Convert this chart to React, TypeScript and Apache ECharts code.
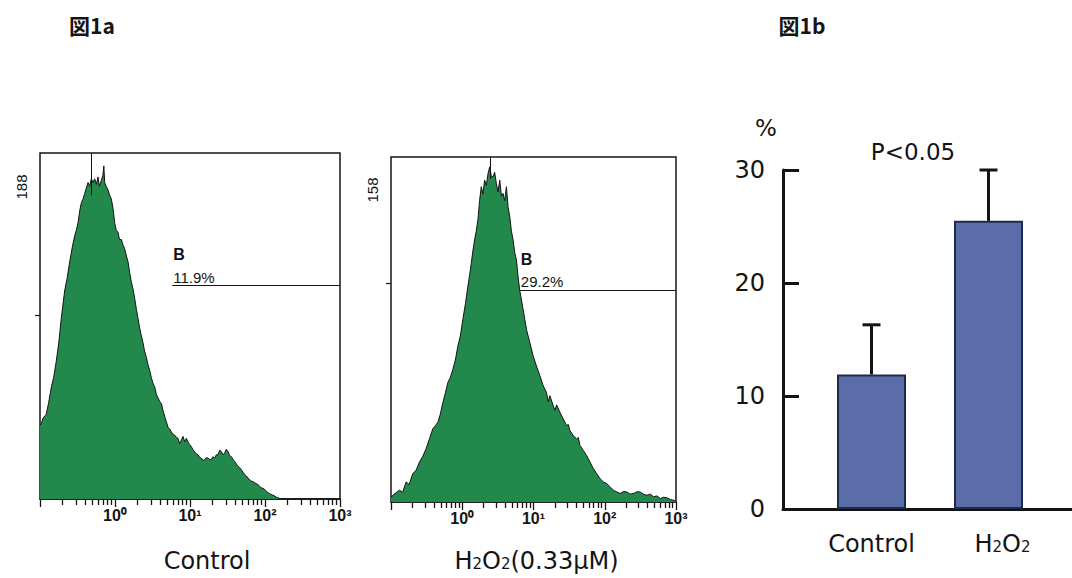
import React, { useEffect, useRef } from 'react';
import * as echarts from 'echarts';

// ---------- Figure 1a: flow cytometry histograms (intensity, cell count) ----------
const CONTROL_X = [
  0.1, 0.104, 0.11, 0.121, 0.13, 0.142, 0.152, 0.165, 0.178, 0.192, 0.2, 0.213, 0.23, 0.249, 0.27, 0.29,
  0.305, 0.321, 0.34, 0.356, 0.375, 0.394, 0.415, 0.437, 0.46, 0.483, 0.51, 0.536, 0.565, 0.593, 0.62,
  0.657, 0.69, 0.71, 0.728, 0.76, 0.807, 0.85, 0.893, 0.94, 0.99, 1.04, 1.096, 1.15, 1.214, 1.28, 1.345,
  1.42, 1.49, 1.57, 1.65, 1.74, 1.83, 1.93, 2.03, 2.13, 2.24, 2.36, 2.49, 2.62, 2.75, 2.9, 3.05, 3.2,
  3.38, 3.55, 3.74, 3.95, 4.15, 4.37, 4.59, 4.84, 5.09, 5.36, 5.64, 5.94, 6.25, 6.58, 6.92, 7.28, 7.66,
  8.07, 8.49, 8.94, 9.4, 9.9, 10.4, 10.9, 11.5, 12.1, 12.8, 13.5, 14.2, 14.9, 15.7, 16.5, 17.4, 18.3,
  19.2, 20.2, 21.3, 22.4, 23.6, 24.9, 26.2, 27.5, 29.0, 30.5, 32.1, 33.8, 35.6, 37.5, 39.4, 41.5, 43.7,
  46, 48.3, 51, 53.6, 56.4, 59.3, 62.4, 65.7, 69.2, 72.8, 76.6, 80.7, 85, 89.3, 94, 99, 104, 110, 115,
  121, 128, 135, 142, 149, 157, 165, 1000,
];
const CONTROL_COUNT = [
  40, 41, 44, 46, 52, 61, 66, 75, 85, 98, 104, 113, 120, 129, 137, 143,
  146, 150, 157, 161, 163, 166, 169, 172, 170, 174, 172, 174, 171, 175, 170,
  173, 176, 181, 172, 170, 168, 165, 163, 158, 150, 146, 145, 141, 141, 138, 136,
  132, 129, 123, 118, 114, 109, 103, 98, 93, 89, 85, 80, 77, 73, 70, 66, 63,
  61, 57, 55, 53, 52, 48, 45, 42, 39, 38, 36.5, 35, 34.7, 33.5, 33, 30, 32,
  34, 31, 33, 31, 29.5, 28.5, 27, 25.8, 24.5, 24, 22.5, 22.2, 21, 21.3, 22.5, 22.2, 21.5,
  21.3, 23, 22.2, 24, 24, 26.5, 25.8, 24, 25, 27, 25.8, 23.5, 23, 21.5, 20.4, 19, 17.7,
  17, 16, 14.5, 13.3, 12.5, 11.4, 10.5, 9.7, 9.5, 8.8, 8.3, 7.9, 6.8, 6.1, 5.8, 5.2, 4.2, 3.4, 3,
  2.5, 2, 1.6, 1, 0.7, 0.3, 0, 0,
];
const H2O2_X = [
  0.1, 0.106, 0.131, 0.146, 0.163, 0.18, 0.202, 0.225, 0.251, 0.28, 0.311, 0.347, 0.386, 0.42, 0.454,
  0.49, 0.535, 0.58, 0.629, 0.68, 0.739, 0.8, 0.869, 0.94, 1.02, 1.11, 1.2, 1.27, 1.34, 1.41, 1.49,
  1.57, 1.66, 1.75, 1.85, 1.95, 2.06, 2.18, 2.3, 2.43, 2.56, 2.7, 2.85, 3.01, 3.18, 3.36, 3.55, 3.74,
  3.95, 4.17, 4.4, 4.64, 4.9, 5.17, 5.46, 5.76, 6.08, 6.42, 7.15, 7.97, 8.88, 9.89, 11.0, 12.3, 13.7,
  15.2, 16.1, 17.0, 18.9, 20, 21.1, 23.5, 26.2, 29.2, 30.8, 32.5, 36.2, 40.3, 42.5, 44.9, 50.1, 55.7,
  62.1, 69.2, 77.1, 85.9, 95.7, 107, 119, 132, 148, 164, 183, 204, 228, 254, 284, 315, 352, 391, 438,
  485, 540, 602, 670, 747, 830, 927, 1000,
];
const H2O2_COUNT = [
  2, 3.1, 5.4, 4.5, 9.2, 8, 13, 14.5, 18.3, 21, 24.4, 29, 33.5, 35, 36.5,
  40, 45.6, 50, 54.8, 57, 60.8, 65, 71.5, 76, 83.6, 91, 98.8, 104, 109.4, 115, 120,
  124, 129.2, 138, 144.4, 141, 147.4, 145, 150.4, 153.5, 149, 148.9, 151, 145.9, 142, 147.4, 140, 141.3,
  138, 144.4, 135, 130.7, 124, 120, 114, 110.9, 103, 96.8, 88.2, 79, 73, 66.9, 62.3, 57.8, 53.2,
  50.2, 46, 48.7, 44.1, 42, 44.5, 41.1, 38, 35, 35.5, 32.7, 30.4, 28.9, 29.5, 25.9, 23.6, 21.3,
  18.3, 15.3, 13, 10.7, 9.2, 8.4, 6.9, 5.4, 4.6, 3.9, 4.8, 4.6, 3.6, 3.9, 4.7, 4.6, 3.5, 3.1, 3.6,
  2.4, 2.8, 1.6, 2.2, 1.9, 1.2, 0.8, 0.5,
];
const HIST_X_MIN_DECADE = -1;
const HIST_X_MAX_DECADE = 3;
const HIST_DECADE_LABELS = ['', '10⁰', '10¹', '10²', '10³'];
const HIST_MINOR_TICKS = [
  0.2, 0.3, 0.4, 0.5, 0.6, 0.7, 0.8, 0.9,
  2, 3, 4, 5, 6, 7, 8, 9,
  20, 30, 40, 50, 60, 70, 80, 90,
  200, 300, 400, 500, 600, 700, 800, 900,
];
const HIST_Y_TICKS = [100];
const CONTROL_Y_MAX = 188;
const H2O2_Y_MAX = 158;
// marker cursor (intensity, lower count) and gate B (start intensity, level, percent)
const CONTROL_MARKER = [0.483, 165];
const H2O2_MARKER = [2.51, 148];
const CONTROL_GATE = [5.8, 116];
const H2O2_GATE = [6.42, 97];
const CONTROL_GATE_PCT = '11.9%';
const H2O2_GATE_PCT = '29.2%';

// ---------- Figure 1b: bar chart ----------
const BAR_CATEGORIES = ['Control', 'H2O2'];
const BAR_VALUES = [11.9, 25.5];
const BAR_ERRORS = [4.4, 4.5];
const BAR_Y_MIN = 0;
const BAR_Y_MAX = 30;
const BAR_Y_INTERVAL = 10;

const SANS = "'DejaVu Sans', 'Liberation Sans', sans-serif";
const ARIAL = "'Liberation Sans', Arial, sans-serif";
const NARROW = "'Liberation Sans Narrow', 'Liberation Sans', sans-serif";
const CJK = "'Noto Sans CJK JP', sans-serif";
const INK = '#141414';
const GREEN = '#22884b';

function histData(xs: number[], ys: number[]) {
  return xs.map((x, i) => [Math.log10(x), ys[i]]);
}

function histSeries(xAxisIndex: number, yAxisIndex: number, xs: number[], ys: number[], yMax: number,
  marker: number[], gate: number[], pct: string) {
  return {
    type: 'line',
    xAxisIndex,
    yAxisIndex,
    data: histData(xs, ys),
    showSymbol: false,
    symbol: 'none',
    lineStyle: { color: INK, width: 1 },
    areaStyle: { color: GREEN, opacity: 1 },
    z: 2,
    markLine: {
      silent: true,
      symbol: 'none',
      animation: false,
      lineStyle: { color: INK, width: 1, type: 'solid' },
      label: { show: false },
      data: [
        [
          { coord: [Math.log10(marker[0]), yMax], label: { show: false } },
          { coord: [Math.log10(marker[0]), marker[1]] },
        ],
        [
          {
            coord: [Math.log10(gate[0]), gate[1]],
            label: {
              show: true,
              position: 'insideStartTop',
              distance: 1,
              formatter: '{b|B}\n{p|' + pct + '}',
              rich: {
                b: { fontSize: 16, fontWeight: 'bold', fontFamily: ARIAL, color: INK, lineHeight: 30 },
                p: { fontSize: 15, fontFamily: ARIAL, color: INK, lineHeight: 15 },
              },
            },
          },
          { coord: [HIST_X_MAX_DECADE, gate[1]] },
        ],
      ],
    },
  };
}

function histXAxes(gridIndex: number, name: string, nameRich: any, namePadding: number[], nameGap: number) {
  return [
    {
      type: 'value',
      gridIndex,
      position: 'bottom',
      min: HIST_X_MIN_DECADE,
      max: HIST_X_MAX_DECADE,
      interval: 1,
      axisLine: { show: true, onZero: false, lineStyle: { color: INK, width: 1.5 } },
      axisTick: { show: true, length: 8, lineStyle: { color: INK, width: 1.3 } },
      axisLabel: {
        margin: 8,
        fontSize: 16,
        fontWeight: 'bold',
        fontFamily: NARROW,
        color: INK,
        formatter: (v: number) => HIST_DECADE_LABELS[Math.round(v - HIST_X_MIN_DECADE)] || '',
      },
      splitLine: { show: false },
      name,
      nameLocation: 'middle',
      nameGap,
      nameTextStyle: {
        fontSize: 24,
        fontFamily: SANS,
        color: INK,
        padding: namePadding,
        rich: nameRich,
      },
    },
    {
      type: 'value',
      gridIndex,
      position: 'bottom',
      min: HIST_X_MIN_DECADE,
      max: HIST_X_MAX_DECADE,
      axisLine: { show: false, onZero: false },
      axisTick: {
        show: true,
        length: 6,
        customValues: HIST_MINOR_TICKS.map((v) => Math.log10(v)),
        lineStyle: { color: INK, width: 1.3 },
      },
      axisLabel: { show: false },
      splitLine: { show: false },
    },
  ];
}

function histYAxis(gridIndex: number, yMax: number) {
  return {
    type: 'value',
    gridIndex,
    min: 0,
    max: yMax,
    axisLine: { show: false, onZero: false },
    axisTick: { show: true, length: 5, customValues: HIST_Y_TICKS, lineStyle: { color: INK, width: 1.2 } },
    axisLabel: { show: false },
    splitLine: { show: false },
  };
}

export default function App() {
  const ref = useRef<HTMLDivElement>(null);

  useEffect(() => {
    if (!ref.current) return;
    const chart = echarts.init(ref.current, undefined, { renderer: 'svg' });

    const subRich = {
      n: { fontSize: 24, fontFamily: SANS, color: INK, lineHeight: 26 },
      h: { fontSize: 24, fontFamily: SANS, color: INK, lineHeight: 26, padding: [0, 0, 0, 28] },
      s: { fontSize: 15, fontFamily: SANS, color: INK, lineHeight: 26, padding: [5, 0, 0, 0] },
    };

    const option: any = {
      animation: false,
      backgroundColor: '#ffffff',
      grid: [
        { left: 40, top: 153, width: 300, height: 350, show: true, borderColor: INK, borderWidth: 1.5 },
        { left: 391, top: 157, width: 285, height: 346, show: true, borderColor: INK, borderWidth: 1.5 },
        { left: 783, top: 170, right: 0, height: 339 },
        { left: 813, top: 170, width: 234, height: 339 },
      ],
      xAxis: [
        ...histXAxes(0, 'Control', undefined, [0, 0, 0, 34], 50),
        ...histXAxes(1, '{n|H}{s|2}{n|O}{s|2}{n|(0.33μM)}', subRich, [0, 0, 0, 6], 46),
        {
          type: 'value',
          gridIndex: 2,
          min: 0,
          max: 1,
          axisLine: { show: true, onZero: false, lineStyle: { color: INK, width: 3 } },
          axisTick: { show: false },
          axisLabel: { show: false },
          splitLine: { show: false },
        },
        {
          type: 'category',
          gridIndex: 3,
          data: BAR_CATEGORIES,
          axisLine: { show: false },
          axisTick: { show: false },
          axisLabel: {
            interval: 0,
            hideOverlap: false,
            margin: 22,
            fontSize: 24,
            fontFamily: SANS,
            color: INK,
            formatter: (v: string) => (v === 'H2O2' ? '{h|H}{s|2}{n|O}{s|2}' : '{n|' + v + '}'),
            rich: subRich,
          },
        },
      ],
      yAxis: [
        histYAxis(0, CONTROL_Y_MAX),
        histYAxis(1, H2O2_Y_MAX),
        {
          type: 'value',
          gridIndex: 2,
          min: BAR_Y_MIN,
          max: BAR_Y_MAX,
          interval: BAR_Y_INTERVAL,
          axisLine: { show: true, onZero: false, lineStyle: { color: INK, width: 3 } },
          axisTick: { show: true, inside: true, length: 16, lineStyle: { color: INK, width: 3 } },
          axisLabel: { margin: 18, fontSize: 24, fontFamily: SANS, color: INK },
          splitLine: { show: false },
        },
        {
          type: 'value',
          gridIndex: 3,
          min: BAR_Y_MIN,
          max: BAR_Y_MAX,
          show: false,
          splitLine: { show: false },
        },
      ],
      series: [
        histSeries(0, 0, CONTROL_X, CONTROL_COUNT, CONTROL_Y_MAX, CONTROL_MARKER, CONTROL_GATE, CONTROL_GATE_PCT),
        histSeries(2, 1, H2O2_X, H2O2_COUNT, H2O2_Y_MAX, H2O2_MARKER, H2O2_GATE, H2O2_GATE_PCT),
        {
          type: 'bar',
          xAxisIndex: 5,
          yAxisIndex: 3,
          data: BAR_VALUES,
          barWidth: 69,
          itemStyle: { color: '#5a6da8', borderColor: '#1c2a4c', borderWidth: 2 },
          z: 2,
        },
        {
          type: 'custom',
          xAxisIndex: 5,
          yAxisIndex: 3,
          data: BAR_VALUES.map((v, i) => [i, v, BAR_ERRORS[i]]),
          encode: { x: 0, y: 1 },
          z: 1,
          renderItem: (params: any, api: any) => {
            const idx = api.value(0);
            const v = api.value(1);
            const e = api.value(2);
            const base = api.coord([idx, v]);
            const top = api.coord([idx, v + e]);
            const half = 9;
            return {
              type: 'group',
              children: [
                {
                  type: 'line',
                  shape: { x1: base[0], y1: base[1], x2: top[0], y2: top[1] },
                  style: { stroke: INK, lineWidth: 3 },
                },
                {
                  type: 'line',
                  shape: { x1: top[0] - half, y1: top[1], x2: top[0] + half, y2: top[1] },
                  style: { stroke: INK, lineWidth: 3 },
                },
              ],
            };
          },
        },
      ],
      graphic: [
        {
          type: 'text', x: 92, y: 25,
          style: { text: '図1a', font: 'bold 21px ' + CJK, fill: INK, align: 'center', verticalAlign: 'middle' },
        },
        {
          type: 'text', x: 802, y: 25,
          style: { text: '図1b', font: 'bold 21px ' + CJK, fill: INK, align: 'center', verticalAlign: 'middle' },
        },
        {
          type: 'text', x: 21, y: 187, rotation: Math.PI / 2,
          style: { text: String(CONTROL_Y_MAX), font: '15px ' + NARROW, fill: INK, align: 'center', verticalAlign: 'middle' },
        },
        {
          type: 'text', x: 372, y: 190, rotation: Math.PI / 2,
          style: { text: String(H2O2_Y_MAX), font: '15px ' + NARROW, fill: INK, align: 'center', verticalAlign: 'middle' },
        },
        {
          type: 'text', x: 766, y: 128,
          style: { text: '%', font: '23px ' + SANS, fill: INK, align: 'center', verticalAlign: 'middle' },
        },
        {
          type: 'text', x: 913, y: 152,
          style: { text: 'P<0.05', font: '23px ' + SANS, fill: INK, align: 'center', verticalAlign: 'middle' },
        },
      ],
    };

    chart.setOption(option);
    return () => chart.dispose();
  }, []);

  return <div ref={ref} style={{ position: 'fixed', left: 0, top: 0, width: 1072, height: 578 }} />;
}
